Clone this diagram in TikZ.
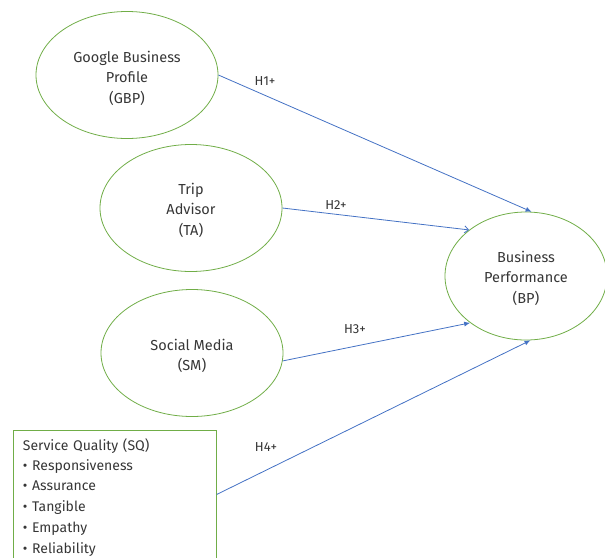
\documentclass[tikz,border=0pt]{standalone}
\usepackage{fontspec}
\setmainfont{Fira Sans}
\usetikzlibrary{shapes.geometric,arrows.meta}
\definecolor{elgreen}{HTML}{70AD47}
\definecolor{arblue}{HTML}{4472C4}
\definecolor{txtgray}{HTML}{363636}
\begin{document}
\begin{tikzpicture}[x=1pt,y=-1pt,
  construct/.style={ellipse, draw=elgreen, line width=0.8pt, inner sep=0pt,
    minimum width=182pt, minimum height=127pt},
  ctext/.style={align=center, text=txtgray, inner sep=0pt,
    font=\fontsize{14.5}{20.5}\selectfont},
  rel/.style={draw=arblue, line width=0.8pt, -{Latex[length=6pt,width=5pt]}},
  relopen/.style={draw=arblue, line width=0.8pt, -{Straight Barb[length=4pt,width=7pt]}},
  hlabel/.style={text=txtgray, font=\fontsize{13}{14}\selectfont, inner sep=0pt}]
\useasboundingbox (0,0) rectangle (605,557);
\node[construct] (gbp) at (127,75) {};
\node[ctext] (gbpt) at (127,78) {Google Business\\Profile\\(GBP)};
\node[construct] (ta) at (191,208) {};
\node[ctext] (tat) at (191,210) {Trip\\Advisor\\(TA)};
\node[construct] (sm) at (192,353) {};
\node[ctext] (smt) at (192,356) {Social Media\\(SM)};
\node[construct, minimum width=162pt, minimum height=128pt] (bp) at (526,276) {};
\node[ctext] (bpt) at (526,278) {Business\\Performance\\(BP)};
\node[draw=elgreen, line width=0.8pt, anchor=north west, minimum width=203pt,
  minimum height=128pt, text width=190pt, inner sep=0pt, text=txtgray,
  font=\fontsize{14}{20.8}\selectfont] (sq) at (13,430)
  {\begin{minipage}[t][128pt][t]{193pt}\vspace{8pt}\hspace*{3pt}Service Quality (SQ)\\[-1pt]
   \hspace*{3pt}• Responsiveness\\
   \hspace*{3pt}• Assurance\\
   \hspace*{3pt}• Tangible\\
   \hspace*{3pt}• Empathy\\
   \hspace*{3pt}• Reliability\end{minipage}};
\draw[rel] (gbp.east) -- (bp.85.5);
\draw[relopen] (ta.east) -- (bp.141);
\draw[rel] (sm.-5) -- (bp.220);
\draw[rel] (sq.east) -- (bp.274);
\node[hlabel] (h1) at (265,81) {H1+};
\node[hlabel] (h2) at (336,205) {H2+};
\node[hlabel] (h3) at (355,329) {H3+};
\node[hlabel] (h4) at (266,447) {H4+};
\end{tikzpicture}
\end{document}
